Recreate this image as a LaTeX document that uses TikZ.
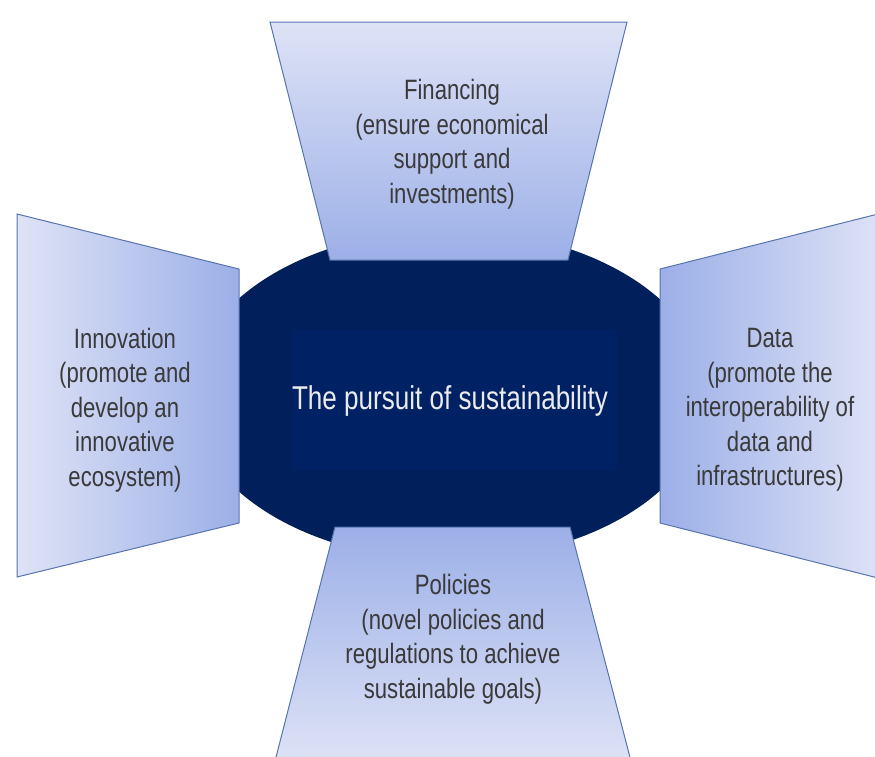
\documentclass[tikz,border=0pt]{standalone}
\usepackage{fontspec}
\setmainfont{Liberation Sans}
\newfontfamily\narrowfont[FakeStretch=0.79]{Liberation Sans}

\definecolor{navy}{HTML}{001F5B}
\definecolor{navyin}{HTML}{002164}
\definecolor{paleblue}{HTML}{DEE3F6}
\definecolor{midblue}{HTML}{9CAFE7}
\definecolor{edgeblue}{HTML}{5774AE}
\definecolor{textgray}{HTML}{3A3A3A}

\begin{document}
\begin{tikzpicture}[x=1pt, y=-1pt,
  wing/.style={draw=edgeblue, line width=1pt},
  wingtext/.style={font=\narrowfont\fontsize{28}{34.5}\selectfont, text=textgray, align=center}]

\useasboundingbox (0,0) rectangle (875,756);
\clip (0,0) rectangle (875,756);

% Draw the dark ellipse in the middle
\fill[navy] (449,395) ellipse [x radius=259pt, y radius=165pt];
\fill[navyin] (292,330) rectangle (617,470);
\node[font=\narrowfont\fontsize{33}{40}\selectfont, text=white!92!black] (goal) at (450,401) {The pursuit of sustainability};

% Draw the four wings around it
\draw[wing, top color=paleblue, bottom color=midblue] (270,22) -- (627,22) -- (568,260) -- (330,260) -- cycle;
\draw[wing, top color=midblue, bottom color=paleblue] (335,527) -- (570,527) -- (632,765) -- (274,765) -- cycle;
\draw[wing, left color=paleblue, right color=midblue] (17,214) -- (239,269) -- (239,523) -- (17,577) -- cycle;
\draw[wing, left color=midblue, right color=paleblue] (660,269) -- (882,213) -- (882,579) -- (660,523) -- cycle;

% Texts of the wings
\node[wingtext] (fin) at (452,144) {Financing\\(ensure economical\\support and\\investments)};
\node[wingtext] (inn) at (125,410) {Innovation\\(promote and\\develop an\\innovative\\ecosystem)};
\node[wingtext] (dat) at (770,410) {Data\\(promote the\\interoperability of\\data and\\infrastructures)};
\node[wingtext] (pol) at (453,639) {Policies\\(novel policies and\\regulations to achieve\\sustainable goals)};

\end{tikzpicture}
\end{document}
